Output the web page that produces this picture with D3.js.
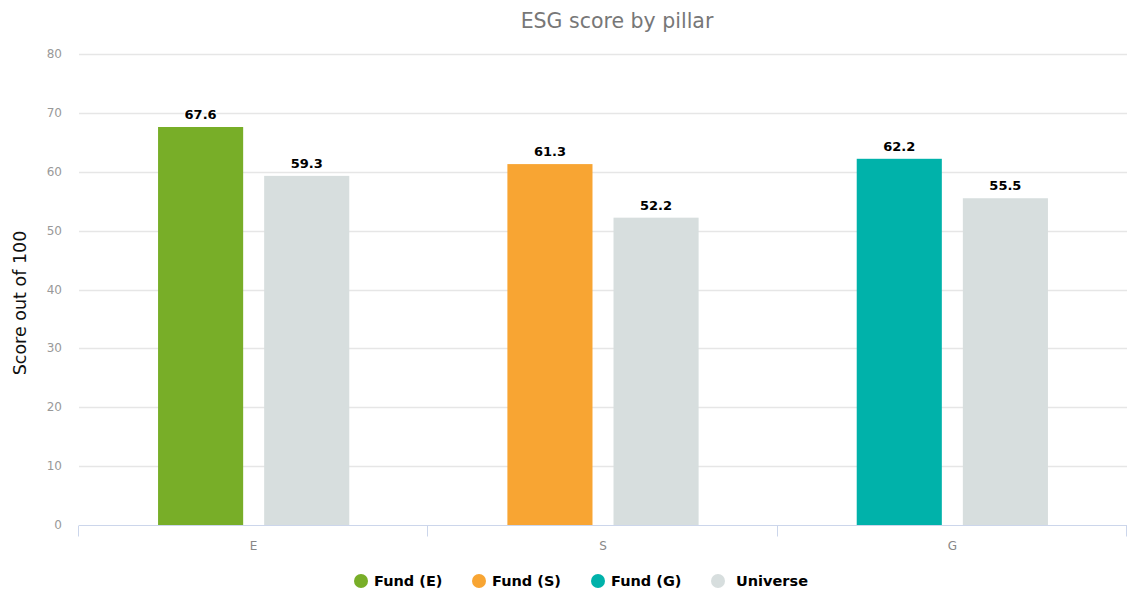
<!DOCTYPE html>
<html>
<head>
<meta charset="utf-8">
<script src="https://cdn.jsdelivr.net/npm/d3@7"></script>
<style>
  html, body { margin: 0; padding: 0; background: #fff; }
  svg { display: block; font-family: "DejaVu Sans", Verdana, sans-serif; }
  .tick-y { fill: #999; font-size: 12px; }
  .tick-x { fill: #888; font-size: 12px; }
  .val { font-size: 13px; font-weight: bold; fill: #000; stroke: #fff; stroke-width: 2px; paint-order: stroke; }
  .leg { font-size: 14.5px; font-weight: bold; fill: #000; }
</style>
</head>
<body>
<div id="chart"></div>
<script>
/* ESG score by pillar — fund vs universe, grouped columns */

const PILLARS = ['E', 'S', 'G'];
const FUND = [67.6, 61.3, 62.2];
const UNIVERSE = [59.3, 52.2, 55.5];
const FUND_COLORS = ['#78AE28', '#F8A533', '#00B2AA'];
const UNIVERSE_COLOR = '#D7DEDE';
const Y_TICKS = [0, 10, 20, 30, 40, 50, 60, 70, 80];
const LEGEND = ['Fund (E)', 'Fund (S)', 'Fund (G)', 'Universe'];
const LEGEND_COLORS = ['#78AE28', '#F8A533', '#00B2AA', '#D7DEDE'];

const W = 1129, H = 598;
const M = { top: 54, right: 2, bottom: 73, left: 79 };

const svg = d3.select('#chart').append('svg')
  .attr('width', W).attr('height', H);

const x = d3.scaleBand().domain(PILLARS).range([M.left, W - M.right]).paddingInner(0).paddingOuter(0);
const inner = d3.scaleBand().domain(['fund', 'universe'])
  .range([0, x.bandwidth()]).paddingInner(0.198).paddingOuter(0.745);
const y = d3.scaleLinear().domain([0, 80]).range([H - M.bottom, M.top]);

/* title */
svg.append('text')
  .attr('x', 617).attr('y', 28)
  .attr('text-anchor', 'middle')
  .attr('fill', '#777')
  .attr('font-size', '20.5px')
  .text('ESG score by pillar');

/* y axis title */
svg.append('text')
  .attr('transform', `translate(26, 303) rotate(-90)`)
  .attr('text-anchor', 'middle')
  .attr('fill', '#111')
  .attr('font-size', '17.5px')
  .text('Score out of 100');

/* grid */
svg.append('g').selectAll('line').data(Y_TICKS.filter((d) => d > 0)).join('line')
  .attr('x1', M.left).attr('x2', W - M.right)
  .attr('y1', (d) => Math.round(y(d)) + 0.5).attr('y2', (d) => Math.round(y(d)) + 0.5)
  .attr('stroke', '#e6e6e6').attr('stroke-width', 1.5);

svg.append('g').selectAll('text').data(Y_TICKS).join('text')
  .attr('class', 'tick-y')
  .attr('x', 62).attr('y', (d) => y(d) + 4)
  .attr('text-anchor', 'end')
  .text((d) => d);

/* bars */
const groups = svg.append('g').selectAll('g').data(PILLARS).join('g')
  .attr('transform', (d) => `translate(${x(d)},0)`);

groups.append('rect')
  .attr('x', inner('fund'))
  .attr('width', inner.bandwidth())
  .attr('y', (d, i) => y(FUND[i]))
  .attr('height', (d, i) => y(0) - y(FUND[i]))
  .attr('fill', (d, i) => FUND_COLORS[i]);

groups.append('rect')
  .attr('x', inner('universe'))
  .attr('width', inner.bandwidth())
  .attr('y', (d, i) => y(UNIVERSE[i]))
  .attr('height', (d, i) => y(0) - y(UNIVERSE[i]))
  .attr('fill', UNIVERSE_COLOR);

groups.append('text').attr('class', 'val')
  .attr('x', inner('fund') + inner.bandwidth() / 2)
  .attr('y', (d, i) => y(FUND[i]) - 8)
  .attr('text-anchor', 'middle')
  .text((d, i) => FUND[i].toFixed(1));

groups.append('text').attr('class', 'val')
  .attr('x', inner('universe') + inner.bandwidth() / 2)
  .attr('y', (d, i) => y(UNIVERSE[i]) - 8)
  .attr('text-anchor', 'middle')
  .text((d, i) => UNIVERSE[i].toFixed(1));

/* x axis */
const y0 = y(0) + 0.5;
svg.append('line')
  .attr('x1', M.left).attr('x2', W - M.right)
  .attr('y1', y0).attr('y2', y0)
  .attr('stroke', '#ccd6eb').attr('stroke-width', 1);

const bounds = PILLARS.map((d) => x(d)).concat([x(PILLARS[PILLARS.length - 1]) + x.bandwidth()]);
svg.append('g').selectAll('line').data(bounds).join('line')
  .attr('x1', (d) => Math.round(d) - 0.5).attr('x2', (d) => Math.round(d) - 0.5)
  .attr('y1', y0).attr('y2', y0 + 11)
  .attr('stroke', '#ccd6eb');

svg.append('g').selectAll('text').data(PILLARS).join('text')
  .attr('class', 'tick-x')
  .attr('x', (d) => x(d) + x.bandwidth() / 2)
  .attr('y', y0 + 24)
  .attr('text-anchor', 'middle')
  .text((d) => d);

/* legend */
const LEG_X = [361, 479, 598, 718];
const leg = svg.append('g').selectAll('g').data(LEGEND).join('g')
  .attr('transform', (d, i) => `translate(${LEG_X[i]}, 581)`);
leg.append('circle').attr('cx', 0).attr('cy', 0).attr('r', 7)
  .attr('fill', (d, i) => LEGEND_COLORS[i]);
leg.append('text').attr('class', 'leg')
  .attr('x', (d, i) => (i === 3 ? 18 : 13)).attr('y', 5)
  .text((d) => d);
</script>
</body>
</html>
